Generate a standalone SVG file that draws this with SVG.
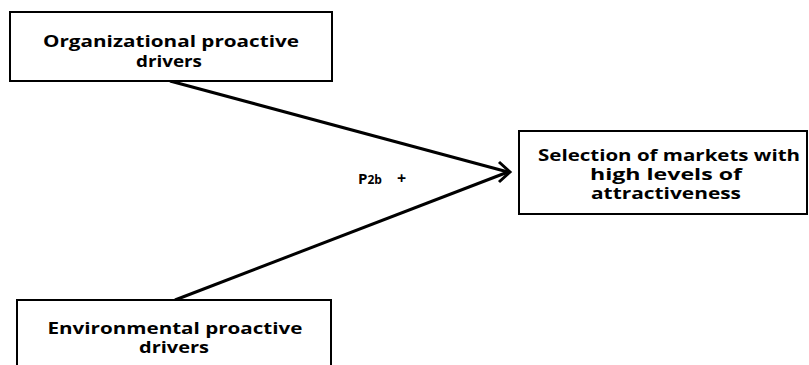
<svg xmlns="http://www.w3.org/2000/svg" width="809" height="365" viewBox="0 0 809 365">
  <style>
    .box { fill: #ffffff; stroke: #000000; stroke-width: 2; }
    .lbl { font-family: "Open Sans", "Liberation Sans", sans-serif; font-weight: 700; font-size: 16.5px; fill: #000000; text-anchor: middle; }
    .edge { fill: none; stroke: #000000; stroke-width: 3; }
    .tag { font-family: "Open Sans", "Liberation Sans", sans-serif; font-weight: 700; fill: #000000; }
  </style>
  <rect width="809" height="365" fill="#ffffff"/>

  <g id="connectors">
    <line class="edge" x1="170" y1="81" x2="508" y2="172"/>
    <line class="edge" x1="175" y1="300" x2="508" y2="172"/>
    <polyline class="edge" points="499,162 510,172 499,182" stroke-linejoin="miter"/>
    <text class="tag" x="358" y="184" font-size="15">P<tspan font-size="12">2b</tspan></text>
    <text class="tag" x="397" y="184" font-size="16">+</text>
  </g>

  <g id="organizational">
    <rect class="box" x="10" y="12" width="322" height="69"/>
    <text class="lbl" x="171" y="47" textLength="256" lengthAdjust="spacingAndGlyphs">Organizational proactive</text>
    <text class="lbl" x="169" y="67" textLength="66" lengthAdjust="spacingAndGlyphs">drivers</text>
  </g>

  <g id="environmental">
    <rect class="box" x="17" y="300" width="314" height="80"/>
    <text class="lbl" x="175" y="334" textLength="255" lengthAdjust="spacingAndGlyphs">Environmental proactive</text>
    <text class="lbl" x="174" y="353" textLength="70" lengthAdjust="spacingAndGlyphs">drivers</text>
  </g>

  <g id="selection">
    <rect class="box" x="519" y="131" width="288" height="83"/>
    <text class="lbl" x="669" y="161" textLength="262" lengthAdjust="spacingAndGlyphs">Selection of markets with</text>
    <text class="lbl" x="666" y="180" textLength="152" lengthAdjust="spacingAndGlyphs">high levels of</text>
    <text class="lbl" x="666" y="199" textLength="150" lengthAdjust="spacingAndGlyphs">attractiveness</text>
  </g>
</svg>
